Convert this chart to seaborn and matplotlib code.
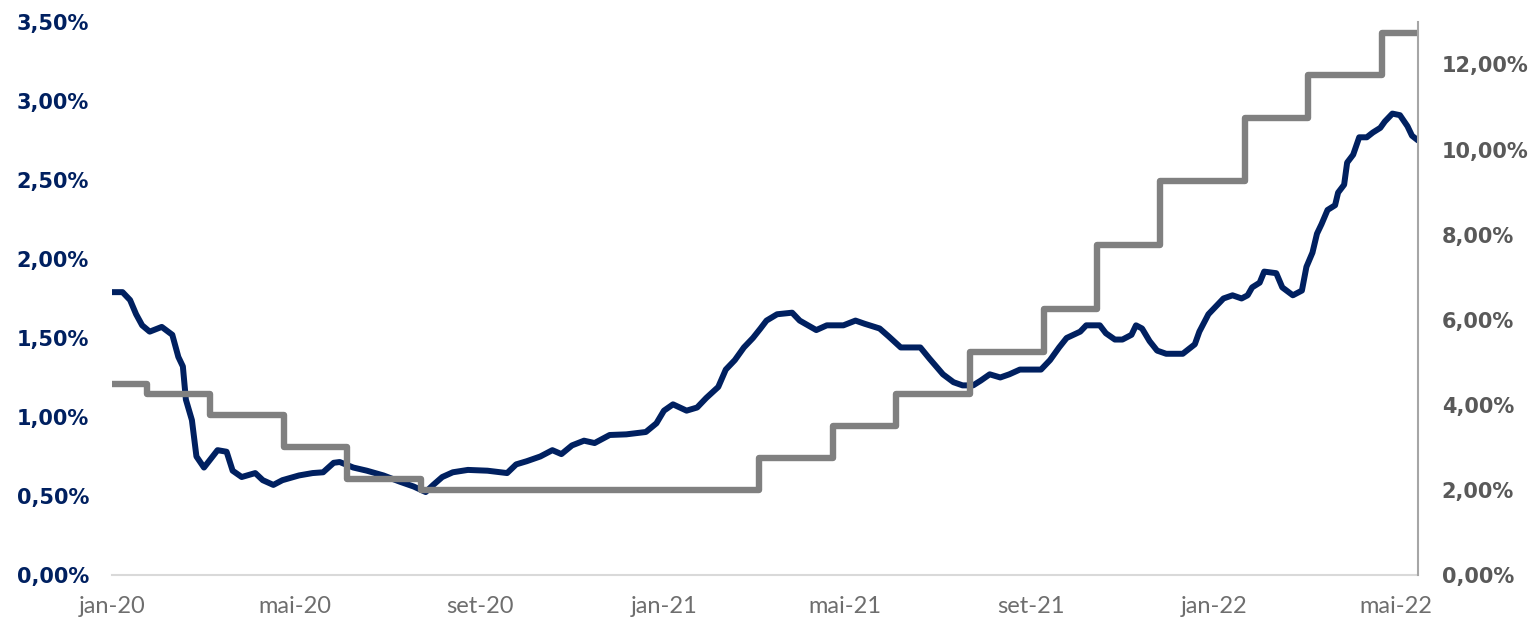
import pandas as pd
import seaborn as sns
import matplotlib.pyplot as plt
import matplotlib.dates as mdates
from matplotlib.ticker import FuncFormatter, FixedLocator

# Série azul (eixo esquerdo)
datas_serie = ['2020-01-14', '2020-01-21', '2020-01-26', '2020-01-30', '2020-02-03', '2020-02-08',
               '2020-02-16', '2020-02-23', '2020-02-27', '2020-03-01', '2020-03-03', '2020-03-07',
               '2020-03-10', '2020-03-15', '2020-03-24', '2020-03-30', '2020-04-03', '2020-04-09',
               '2020-04-18', '2020-04-23', '2020-04-30', '2020-05-06', '2020-05-17', '2020-05-26',
               '2020-06-02', '2020-06-09', '2020-06-13', '2020-06-22', '2020-07-01', '2020-07-12',
               '2020-07-23', '2020-08-01', '2020-08-09', '2020-08-14', '2020-08-20', '2020-08-27',
               '2020-09-06', '2020-09-19', '2020-10-02', '2020-10-08', '2020-10-15', '2020-10-24',
               '2020-11-01', '2020-11-07', '2020-11-14', '2020-11-22', '2020-11-29', '2020-12-09',
               '2020-12-20', '2021-01-02', '2021-01-09', '2021-01-14', '2021-01-20', '2021-01-29',
               '2021-02-05', '2021-02-11', '2021-02-19', '2021-02-24', '2021-03-02', '2021-03-08',
               '2021-03-14', '2021-03-19', '2021-03-23', '2021-03-30', '2021-04-09', '2021-04-14',
               '2021-04-25', '2021-05-02', '2021-05-13', '2021-05-21', '2021-05-27', '2021-06-06',
               '2021-06-12', '2021-06-20', '2021-07-03', '2021-07-09', '2021-07-18', '2021-07-25',
               '2021-07-31', '2021-08-07', '2021-08-12', '2021-08-18', '2021-08-25', '2021-08-31',
               '2021-09-07', '2021-09-21', '2021-09-27', '2021-10-03', '2021-10-08', '2021-10-17',
               '2021-10-21', '2021-10-30', '2021-11-03', '2021-11-09', '2021-11-14', '2021-11-20',
               '2021-11-23', '2021-11-27', '2021-12-02', '2021-12-07', '2021-12-13', '2021-12-24',
               '2022-01-01', '2022-01-04', '2022-01-10', '2022-01-16', '2022-01-20', '2022-01-26',
               '2022-02-01', '2022-02-05', '2022-02-08', '2022-02-13', '2022-02-16', '2022-02-24',
               '2022-02-28', '2022-03-07', '2022-03-13', '2022-03-16', '2022-03-20', '2022-03-23',
               '2022-03-26', '2022-03-30', '2022-04-04', '2022-04-06', '2022-04-10', '2022-04-12',
               '2022-04-16', '2022-04-20', '2022-04-25', '2022-04-29', '2022-05-04', '2022-05-07',
               '2022-05-12', '2022-05-17', '2022-05-22', '2022-05-25', '2022-05-29']
valores_serie = [1.79, 1.79, 1.74, 1.65, 1.58, 1.54,
                 1.57, 1.52, 1.38, 1.32, 1.11, 0.98,
                 0.75, 0.68, 0.79, 0.78, 0.66, 0.62,
                 0.645, 0.60, 0.57, 0.60, 0.63, 0.645,
                 0.65, 0.71, 0.715, 0.68, 0.66, 0.63,
                 0.59, 0.56, 0.525, 0.57, 0.62, 0.65,
                 0.665, 0.66, 0.645, 0.70, 0.72, 0.75,
                 0.79, 0.765, 0.82, 0.85, 0.835, 0.886,
                 0.89, 0.905, 0.96, 1.04, 1.08, 1.04,
                 1.06, 1.12, 1.19, 1.30, 1.36, 1.44,
                 1.50, 1.56, 1.61, 1.65, 1.66, 1.61,
                 1.55, 1.58, 1.58, 1.61, 1.59, 1.56,
                 1.51, 1.44, 1.44, 1.37, 1.27, 1.22,
                 1.20, 1.20, 1.23, 1.27, 1.25, 1.27,
                 1.30, 1.30, 1.36, 1.44, 1.50, 1.54,
                 1.58, 1.58, 1.53, 1.49, 1.49, 1.52,
                 1.58, 1.56, 1.48, 1.42, 1.40, 1.40,
                 1.46, 1.54, 1.65, 1.71, 1.75, 1.77,
                 1.75, 1.77, 1.82, 1.85, 1.92, 1.91,
                 1.82, 1.77, 1.80, 1.95, 2.04, 2.16,
                 2.22, 2.31, 2.34, 2.42, 2.47, 2.61,
                 2.66, 2.77, 2.77, 2.80, 2.83, 2.87,
                 2.92, 2.91, 2.84, 2.78, 2.75]

# Selic (eixo direito)
datas_selic = ['2020-01-14', '2020-02-06', '2020-03-19', '2020-05-07', '2020-06-18', '2020-08-06',
               '2021-03-18', '2021-05-06', '2021-06-17', '2021-08-05', '2021-09-23', '2021-10-28',
               '2021-12-09', '2022-02-03', '2022-03-17', '2022-05-05', '2022-05-29']
valores_selic = [4.50, 4.25, 3.75, 3.00, 2.25, 2.00,
                 2.75, 3.50, 4.25, 5.25, 6.25, 7.75,
                 9.25, 10.75, 11.75, 12.75, 12.75]

# Rótulos do eixo x (a cada 4 meses)
datas_ticks = ['2020-01-14', '2020-05-14', '2020-09-14', '2021-01-14',
               '2021-05-14', '2021-09-14', '2022-01-14', '2022-05-14']
rotulos_ticks = ['jan-20', 'mai-20', 'set-20', 'jan-21', 'mai-21', 'set-21', 'jan-22', 'mai-22']

serie = pd.DataFrame({'data': pd.to_datetime(datas_serie), 'valor': valores_serie})
selic = pd.DataFrame({'data': pd.to_datetime(datas_selic), 'valor': valores_selic})

sns.set_style('white')
plt.rcParams['font.family'] = ['DejaVu Sans']

azul = '#002060'
cinza = '#808080'

fig = plt.figure(figsize=(15.34, 6.2), dpi=100)
ax = fig.add_axes([0.073, 0.0726, 0.8514, 0.892])
ax2 = ax.twinx()

sns.lineplot(data=serie, x='data', y='valor', ax=ax, color=azul, linewidth=4.3)
sns.lineplot(data=selic, x='data', y='valor', ax=ax2, color=cinza, linewidth=4.6,
             drawstyle='steps-post')

ax.set_xlim(pd.Timestamp('2020-01-14'), pd.Timestamp('2022-05-29'))
ax.set_ylim(0, 3.5)
ax2.set_ylim(0, 13)
ax.set_yticks([0, 0.5, 1, 1.5, 2, 2.5, 3, 3.5])
ax2.set_yticks([0, 2, 4, 6, 8, 10, 12])

fmt = FuncFormatter(lambda v, p: f'{v:.2f}%'.replace('.', ','))
ax.yaxis.set_major_formatter(fmt)
ax2.yaxis.set_major_formatter(fmt)

ax.xaxis.set_major_locator(FixedLocator(mdates.date2num(pd.to_datetime(datas_ticks))))
ax.set_xticklabels(rotulos_ticks)

for a in (ax, ax2):
    a.set_xlabel('')
    a.set_ylabel('')
    for s in a.spines.values():
        s.set_visible(False)
    a.grid(False)

ax.spines['bottom'].set_visible(True)
ax.spines['bottom'].set_color('#d9d9d9')
ax.spines['bottom'].set_linewidth(1.5)
ax2.spines['right'].set_visible(True)
ax2.spines['right'].set_color('#a6a6a6')
ax2.spines['right'].set_linewidth(1.5)

ax.tick_params(axis='y', length=0, pad=16.5, labelsize=15, labelcolor=azul)
ax2.tick_params(axis='y', length=0, pad=17, labelsize=15, labelcolor='#595959')
ax.tick_params(axis='x', length=0, pad=15, labelcolor='#6e6e6e')
for t in ax.get_yticklabels() + ax2.get_yticklabels():
    t.set_fontweight('bold')
for t in ax.get_xticklabels():
    t.set_fontfamily(['Lato', 'DejaVu Sans'])
    t.set_fontweight('normal')
    t.set_fontsize(17)

plt.savefig('out.png', dpi=100)
